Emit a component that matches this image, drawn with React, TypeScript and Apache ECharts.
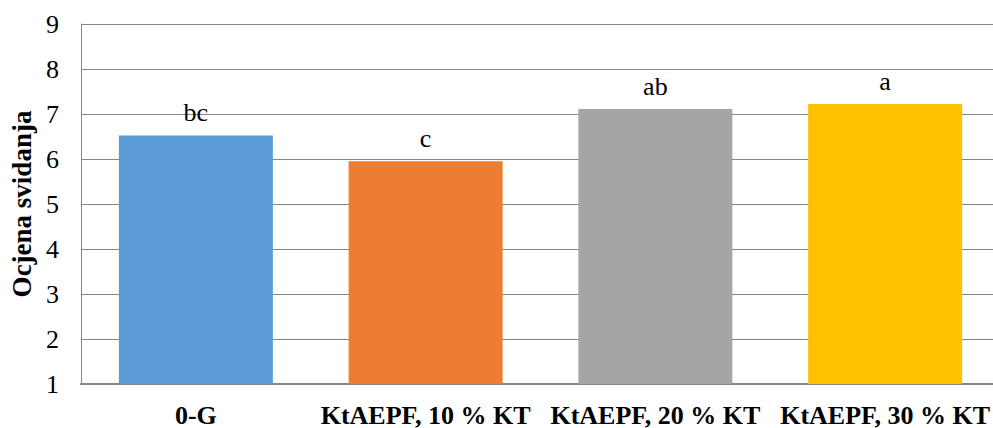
import React, { useEffect, useRef } from "react";
import * as echarts from "echarts";

const categories = ["0-G", "KtAEPF, 10 % KT", "KtAEPF, 20 % KT", "KtAEPF, 30 % KT"];
const values = [6.52, 5.95, 7.11, 7.22];
const letters = ["bc", "c", "ab", "a"];
const colors = ["#5B9BD5", "#ED7D31", "#A5A5A5", "#FFC000"];
const yMin = 1;
const yMax = 9;
const yInterval = 1;
const yName = "Ocjena svidanja";

const FONT = '"Liberation Serif"';

export default function App() {
  const ref = useRef<HTMLDivElement>(null);
  useEffect(() => {
    if (!ref.current) return;
    const chart = echarts.init(ref.current, undefined, { renderer: "svg" });
    chart.setOption({
      animation: false,
      backgroundColor: "#ffffff",
      textStyle: { fontFamily: FONT },
      grid: { left: 79, top: 24, right: 0, bottom: 43, containLabel: false },
      xAxis: {
        type: "category",
        data: categories,
        axisTick: { show: false },
        axisLine: { show: true, lineStyle: { color: "#868686", width: 2 } },
        axisLabel: {
          interval: 0,
          margin: 18,
          fontFamily: FONT,
          fontSize: 26,
          fontWeight: "bold",
          color: "#000000",
        },
      },
      yAxis: {
        type: "value",
        min: yMin,
        max: yMax,
        interval: yInterval,
        name: yName,
        nameLocation: "middle",
        nameGap: 46,
        nameTextStyle: {
          fontFamily: FONT,
          fontSize: 27,
          fontWeight: "bold",
          color: "#000000",
        },
        axisLine: { show: true, lineStyle: { color: "#868686", width: 1 } },
        axisTick: { show: false },
        splitLine: { show: true, lineStyle: { color: "#868686", width: 1 } },
        axisLabel: {
          margin: 22,
          fontFamily: FONT,
          fontSize: 26,
          color: "#000000",
        },
      },
      series: [
        {
          type: "bar",
          barWidth: 154,
          data: values.map((v, i) => ({ value: v, itemStyle: { color: colors[i] } })),
          label: {
            show: true,
            position: "top",
            distance: 10,
            fontFamily: FONT,
            fontSize: 26,
            color: "#000000",
            formatter: (p: any) => letters[p.dataIndex],
          },
        },
      ],
    });
    return () => chart.dispose();
  }, []);
  return (
    <div
      style={{ position: "absolute", left: 0, top: 0, width: 993, height: 428, overflow: "hidden" }}
    >
      <div ref={ref} style={{ width: 1000, height: 428 }} />
    </div>
  );
}
